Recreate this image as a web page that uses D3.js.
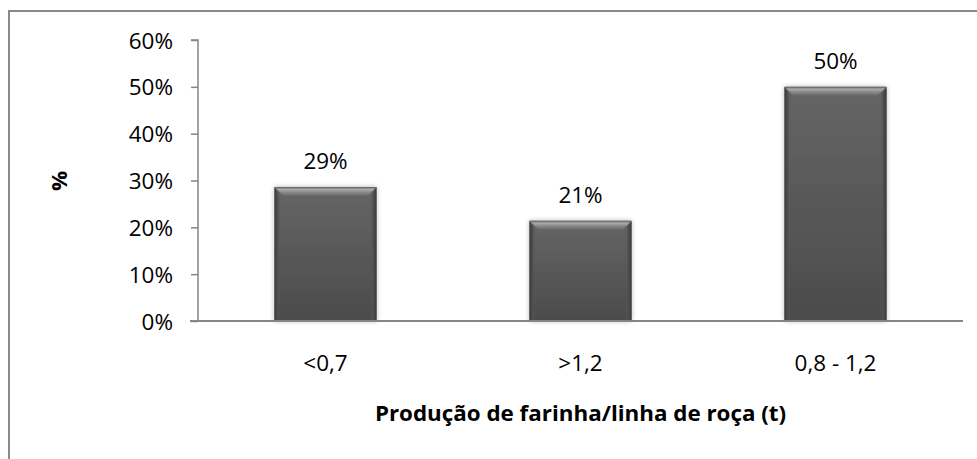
<!DOCTYPE html>
<html><head><meta charset="utf-8">
<script src="https://cdn.jsdelivr.net/npm/d3@7"></script>
<style>body{margin:0;background:#fff}</style></head>
<body>
<svg id="c" width="977" height="459"></svg>
<script>
const categories = ["<0,7", ">1,2", "0,8 - 1,2"];
const values = [0.286, 0.214, 0.50];
const valueLabels = ["29%", "21%", "50%"];
const yTicks = [0, 0.1, 0.2, 0.3, 0.4, 0.5, 0.6];
const yTickLabels = ["0%", "10%", "20%", "30%", "40%", "50%", "60%"];
const xTitle = "Produção de farinha/linha de roça (t)";
const yTitle = "%";

const svg = d3.select("#c");
const FONT = "'Open Sans', sans-serif";
const SX = 1.07;
const axisColor = "#868686";

const x = d3.scaleBand().domain(categories).range([198, 963]).paddingInner(0.6).paddingOuter(0.3);
const y = d3.scaleLinear().domain([0, 0.6]).range([321, 40]);

// outer border
svg.append("rect").attr("x", 9).attr("y", 11).attr("width", 1000).attr("height", 500)
  .attr("fill", "none").attr("stroke", "#8a8a8a").attr("stroke-width", 2);

const defs = svg.append("defs");
const g1 = defs.append("linearGradient").attr("id", "face").attr("x1", 0).attr("y1", 0).attr("x2", 0).attr("y2", 1);
g1.append("stop").attr("offset", "0%").attr("stop-color", "#656565");
g1.append("stop").attr("offset", "100%").attr("stop-color", "#4b4b4b");
const g2 = defs.append("linearGradient").attr("id", "topb").attr("x1", 0).attr("y1", 0).attr("x2", 0).attr("y2", 1);
g2.append("stop").attr("offset", "0%").attr("stop-color", "#5a5a5a");
g2.append("stop").attr("offset", "25%").attr("stop-color", "#ababab");
g2.append("stop").attr("offset", "60%").attr("stop-color", "#878787");
g2.append("stop").attr("offset", "100%").attr("stop-color", "#676767");
const g3 = defs.append("linearGradient").attr("id", "leftb").attr("x1", 0).attr("y1", 0).attr("x2", 1).attr("y2", 0);
g3.append("stop").attr("offset", "0%").attr("stop-color", "#3a3a3a");
g3.append("stop").attr("offset", "50%").attr("stop-color", "#4e4e4e");
g3.append("stop").attr("offset", "100%").attr("stop-color", "#5a5a5a").attr("stop-opacity", 0);
const g4 = defs.append("linearGradient").attr("id", "rightb").attr("x1", 1).attr("y1", 0).attr("x2", 0).attr("y2", 0);
g4.append("stop").attr("offset", "0%").attr("stop-color", "#3a3a3a");
g4.append("stop").attr("offset", "50%").attr("stop-color", "#4e4e4e");
g4.append("stop").attr("offset", "100%").attr("stop-color", "#5a5a5a").attr("stop-opacity", 0);
const f = defs.append("filter").attr("id", "sh").attr("x", "-20%").attr("y", "-20%").attr("width", "140%").attr("height", "140%");
f.append("feDropShadow").attr("dx", 0).attr("dy", 0).attr("stdDeviation", 2.5).attr("flood-color", "#000").attr("flood-opacity", 0.3);

// bars
const bars = svg.append("g").selectAll("g").data(values).join("g");
const B = 9, S = 6;
bars.each(function(v, i) {
  const g = d3.select(this);
  const x0 = x(categories[i]), w = x.bandwidth(), y0 = y(v), h = y(0) - y(v);
  g.append("rect").attr("x", x0).attr("y", y0).attr("width", w).attr("height", h)
    .attr("fill", "url(#face)").attr("filter", "url(#sh)");
  g.append("path").attr("d", `M${x0},${y0}L${x0+S},${y0+B}L${x0+S},${y0+h}L${x0},${y0+h}Z`).attr("fill", "url(#leftb)");
  g.append("path").attr("d", `M${x0+w},${y0}L${x0+w-S},${y0+B}L${x0+w-S},${y0+h}L${x0+w},${y0+h}Z`).attr("fill", "url(#rightb)");
  g.append("path").attr("d", `M${x0},${y0}L${x0+w},${y0}L${x0+w-B},${y0+B}L${x0+B},${y0+B}Z`).attr("fill", "url(#topb)");
});

// axes
const yAxis = d3.axisLeft(y).tickValues(yTicks).tickSize(7).tickFormat("");
const ya = svg.append("g").attr("transform", "translate(198,0)").call(yAxis);
ya.selectAll("path,line").attr("stroke", axisColor).attr("stroke-width", 1.5);
ya.select(".domain").attr("d", `M-7,${y(0.6)}H0V${y(0)}`);
svg.append("line").attr("x1", 190).attr("x2", 963).attr("y1", y(0)).attr("y2", y(0))
  .attr("stroke", axisColor).attr("stroke-width", 2);

function txt(str, px, py, anchor, opts = {}) {
  const t = svg.append("text")
    .attr("transform", `translate(${px},${py}) ${opts.rot ? "rotate(" + opts.rot + ")" : ""} scale(${opts.sx || SX},1)`)
    .attr("text-anchor", anchor)
    .attr("font-family", FONT).attr("font-size", opts.size || 21)
    .attr("font-weight", opts.bold ? "bold" : "normal")
    .attr("fill", "#000").text(str);
  return t;
}

yTicks.forEach((t, i) => txt(yTickLabels[i], 173, y(t) + 8.5, "end"));
categories.forEach(c => txt(c, x(c) + x.bandwidth() / 2, 371, "middle"));
values.forEach((v, i) => txt(valueLabels[i], x(categories[i]) + x.bandwidth() / 2, y(v) - 18, "middle"));
txt(xTitle, 580.5, 421, "middle", {bold: true, sx: 1.065});
txt(yTitle, 67, 181, "middle", {bold: true, rot: -90});
</script>
</body></html>
